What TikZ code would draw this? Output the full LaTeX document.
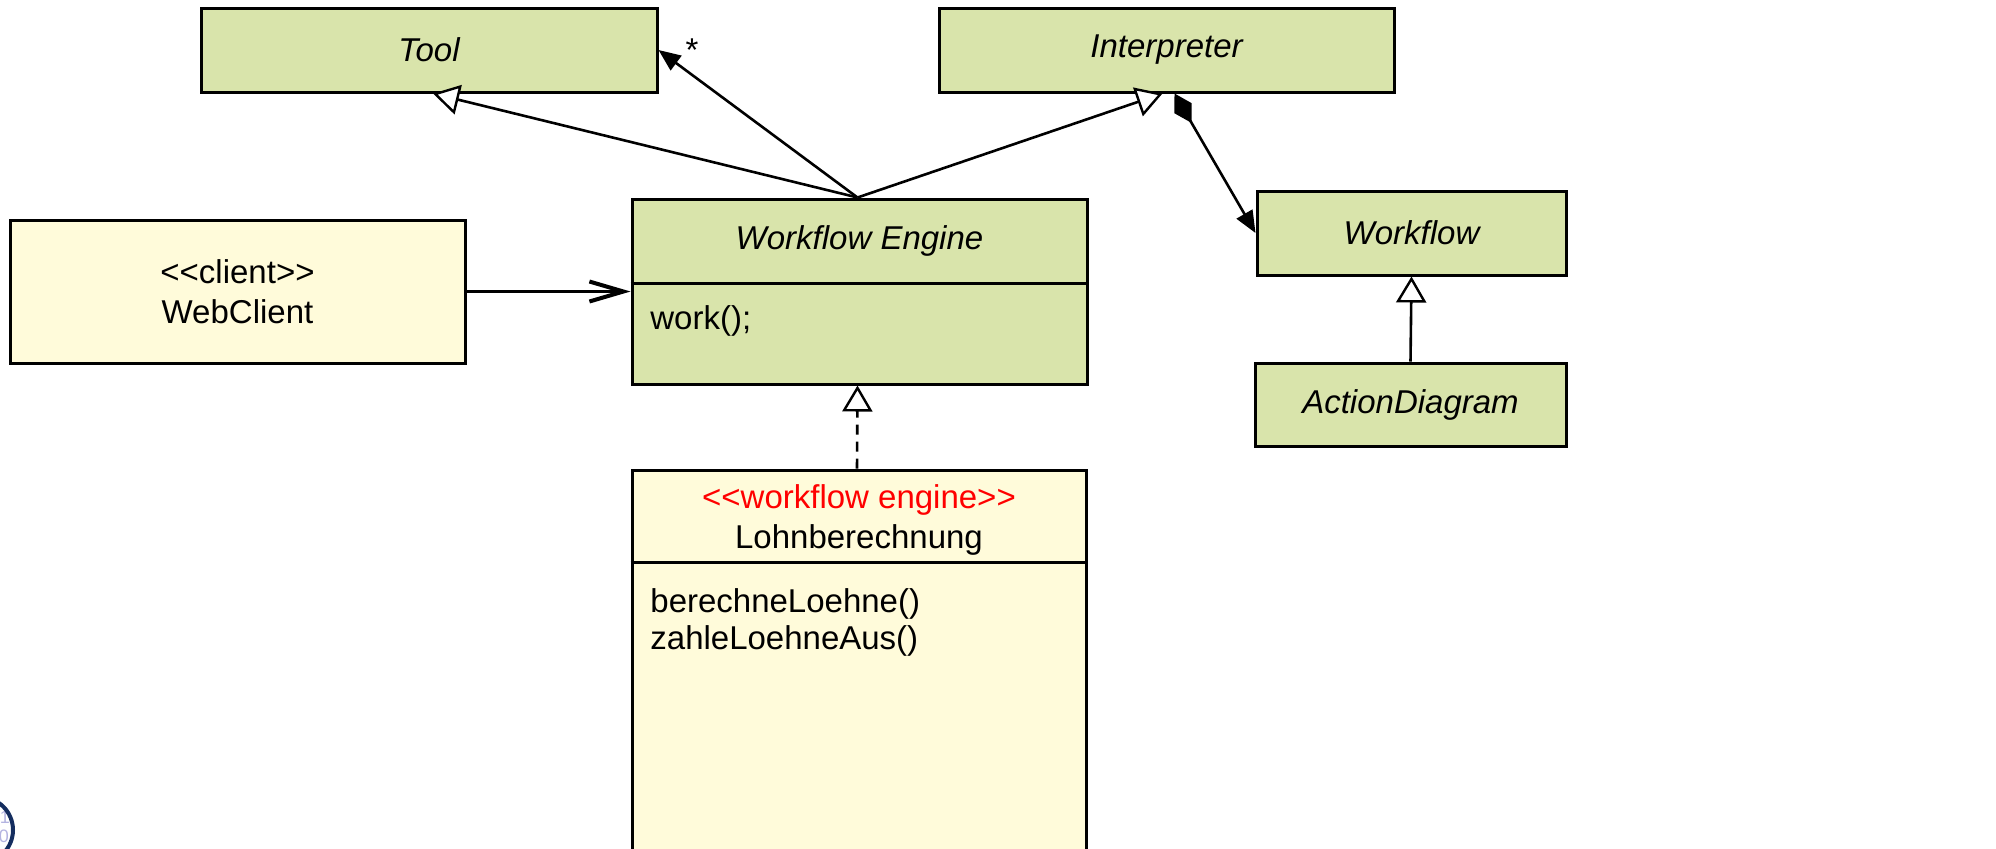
\documentclass[tikz,border=0pt]{standalone}
\usepackage{fontspec}
\setmainfont{Liberation Sans}
\usetikzlibrary{arrows.meta}
\definecolor{umlgreen}{RGB}{217,228,171}
\definecolor{umlyellow}{RGB}{255,251,218}
\definecolor{logoblue}{RGB}{20,45,95}
\definecolor{logolav}{RGB}{180,180,225}
\tikzset{
  box/.style={draw=black, line width=1.5pt, rectangle, inner sep=0pt, font=\fontsize{16.5pt}{20pt}\selectfont},
  gbox/.style={box, fill=umlgreen},
  ybox/.style={box, fill=umlyellow},
  lbl/.style={inner sep=0pt, font=\fontsize{16.5pt}{20pt}\selectfont},
  conn/.style={line width=1.3pt},
  gen/.style={conn, -{Triangle[length=13pt,width=15pt,fill=white,line width=1.2pt]}},
  nav/.style={conn, -{Triangle[length=11pt,width=9pt]}},
}
\begin{document}
\begin{tikzpicture}[x=0.5pt,y=-0.5pt]
\useasboundingbox (0,0) rectangle (1996,848);
\clip (0,0) rectangle (1996,848);
% classes
\node[gbox, minimum width=228pt, minimum height=42pt] (tool) at (429,50) {\itshape Tool};
\node[gbox, minimum width=227.5pt, minimum height=42pt] (interp) at (1166.5,50) {\itshape Interpreter};
\node[ybox, minimum width=227.5pt, minimum height=71.5pt, align=center] (web) at (237.5,291.5) {<{}<client>{}>\\WebClient};
\node[gbox, minimum width=227.5pt, minimum height=92.5pt] (eng) at (859.5,291.5) {};
\draw[line width=1.5pt] (eng.west |- 0,283) coordinate (engdl) -- (eng.east |- 0,283) coordinate (engdr);
\node[lbl] (engname) at (859.5,241) {\itshape Workflow Engine};
\node[lbl, anchor=west] (engop) at (650,321) {work();};
\node[gbox, minimum width=154.5pt, minimum height=42pt] (wf) at (1411.5,233) {\itshape Workflow};
\node[gbox, minimum width=155.5pt, minimum height=41.5pt] (ad) at (1410.5,404.5) {\itshape ActionDiagram};
\node[ybox, minimum width=227pt, minimum height=210pt] (lohn) at (859,680) {};
\draw[line width=1.5pt] (lohn.west |- 0,562) coordinate (lohndl) -- (lohn.east |- 0,562) coordinate (lohndr);
\node[lbl, text=red] (lohnst) at (859,500) {<{}<workflow engine>{}>};
\node[lbl] (lohnname) at (859,540) {Lohnberechnung};
\node[lbl, anchor=west] (lohnop1) at (650,604) {berechneLoehne()};
\node[lbl, anchor=west] (lohnop2) at (650,641) {zahleLoehneAus()};
% connectors
\draw[gen] ([xshift=-1pt]eng.north) -- ([xshift=2pt]tool.south);
\draw[nav] ([xshift=-1pt]eng.north) -- (tool.east);
\node[lbl] (star) at (692,50) {*};
\draw[gen] ([xshift=-1pt]eng.north) -- ([xshift=-2pt]interp.south);
\draw[conn, {Diamond[length=17pt,width=10pt]}-{Triangle[length=11pt,width=9pt]}] ([xshift=4pt]interp.south) -- (wf.west);
\draw[conn, -{Straight Barb[length=17pt,width=10pt,line width=2pt]}] (web.east) -- (eng.west);
\draw[gen, dash pattern=on 5pt off 3.5pt] ([xshift=-1pt]lohn.north) -- ([xshift=-1pt]eng.south);
\draw[gen] (ad.north) -- (wf.south);
% logo (partially visible)
\node[inner sep=0pt, text=logolav, font=\fontsize{9pt}{10pt}\selectfont] (logo1) at (5,817) {1};
\node[inner sep=0pt, text=logolav, font=\fontsize{9pt}{10pt}\selectfont] (logo0) at (4,836) {0};
\draw[logoblue, line width=2pt] (-20,830) circle (33);
\end{tikzpicture}
\end{document}
